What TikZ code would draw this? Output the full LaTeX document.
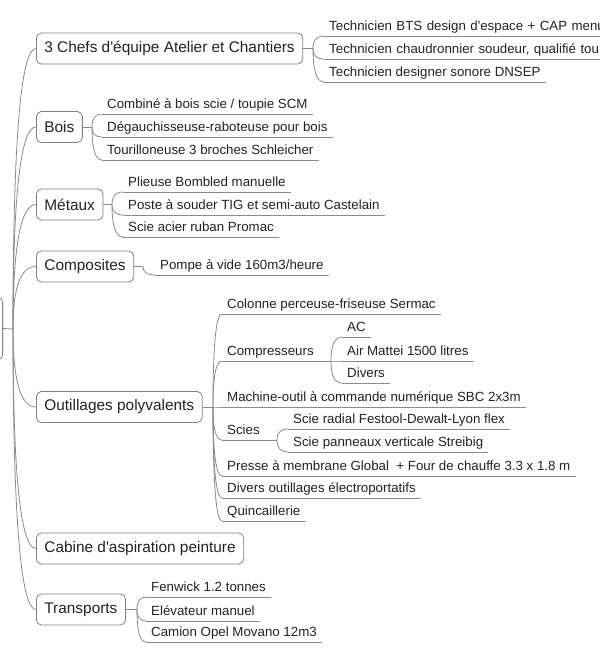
\documentclass[tikz,border=0pt]{standalone}
\usepackage{fontspec}
\setmainfont{Liberation Sans}
\usepackage{xcolor}
\usetikzlibrary{calc}

\definecolor{ink}{HTML}{222222}
\definecolor{linegray}{HTML}{8A8A8A}
\definecolor{boxgray}{HTML}{808080}

\tikzset{
  link/.style={draw=linegray, line width=0.8pt},
  quad/.style={to path={.. controls ($(\tikztostart)!.667!(\tikztostart|-\tikztotarget)$)
      and ($(\tikztotarget)!.667!(\tikztostart|-\tikztotarget)$) .. (\tikztotarget)}},
  topic/.style={draw=boxgray, rounded corners=5pt, line width=0.8pt, inner xsep=8pt,
      minimum height=31pt, anchor=west, text=ink, font=\fontsize{15.4}{18}\selectfont},
  leaf/.style={inner xsep=5pt, inner ysep=2.5pt, text height=10pt, text depth=3pt,
      anchor=south west, text=ink, font=\fontsize{13.3}{16}\selectfont,
      append after command={(\tikzlastnode.south west) edge[link] (\tikzlastnode.south east)}},
}

\begin{document}
\begin{tikzpicture}[x=1pt, y=-1pt]

    \useasboundingbox (0,0) rectangle (600,659);

    % --- ROOT (cut by the left edge) ---
    \node[draw=boxgray, rounded corners=5pt, line width=0.8pt, minimum width=80pt,
          minimum height=63pt, anchor=east] (root) at (3,328.5) {};
    \coordinate (trunk) at (13,329);
    \draw[link] (root.east) -- (trunk);

    % --- MAIN TOPICS ---
    \node[topic] (chefs) at (36,48.5) {3 Chefs d\textquotesingle équipe Atelier et Chantiers};
    \node[topic] (bois) at (36,127) {Bois};
    \node[topic] (metaux) at (36,204.5) {Métaux};
    \node[topic] (composites) at (36,266.5) {Composites};
    \node[topic] (outils) at (36,407) {Outillages polyvalents};
    \node[topic] (cabine) at (36,548.5) {Cabine d\textquotesingle aspiration peinture};
    \node[topic] (transports) at (36,609.5) {Transports};

    % trunk to main topics
    \draw[link] (trunk) to[quad] (chefs.west);
    \draw[link] (trunk) to[quad] (bois.west);
    \draw[link] (trunk) to[quad] (metaux.west);
    \draw[link] (trunk) to[quad] (composites.west);
    \draw[link] (trunk) to[quad] (outils.west);
    \draw[link] (trunk) to[quad] (cabine.west);
    \draw[link] (trunk) to[quad] (transports.west);

    % --- CHEFS D'EQUIPE ---
    \coordinate (jchefs) at (313,48.5);
    \draw[link] (chefs.east) -- (jchefs);
    \node[leaf, text width=330pt] (chefs1) at (324,36) {Technicien BTS design d\textquotesingle espace + CAP menu};
    \node[leaf, text width=330pt] (chefs2) at (324,59) {Technicien chaudronnier soudeur, qualifié tou};
    \node[leaf] (chefs3) at (324,82) {Technicien designer sonore DNSEP};
    \draw[link] (jchefs) to[quad] (chefs1.south west);
    \draw[link] (jchefs) to[quad] (chefs2.south west);
    \draw[link] (jchefs) to[quad] (chefs3.south west);

    % --- BOIS ---
    \coordinate (jbois) at (92,127);
    \draw[link] (bois.east) -- (jbois);
    \node[leaf] (bois1) at (102,114) {Combiné à bois scie / toupie SCM};
    \node[leaf] (bois2) at (102,137) {Dégauchisseuse-raboteuse pour bois};
    \node[leaf] (bois3) at (102,160) {Tourilloneuse 3 broches Schleicher};
    \draw[link] (jbois) to[quad] (bois1.south west);
    \draw[link] (jbois) to[quad] (bois2.south west);
    \draw[link] (jbois) to[quad] (bois3.south west);

    % --- METAUX ---
    \coordinate (jmetaux) at (112,204.5);
    \draw[link] (metaux.east) -- (jmetaux);
    \node[leaf] (metaux1) at (123,192) {Plieuse Bombled manuelle};
    \node[leaf] (metaux2) at (123,215) {Poste à souder TIG et semi-auto Castelain};
    \node[leaf] (metaux3) at (123,237) {Scie acier ruban Promac};
    \draw[link] (jmetaux) to[quad] (metaux1.south west);
    \draw[link] (jmetaux) to[quad] (metaux2.south west);
    \draw[link] (jmetaux) to[quad] (metaux3.south west);

    % --- COMPOSITES ---
    \coordinate (jcomposites) at (143,266.5);
    \draw[link] (composites.east) -- (jcomposites);
    \node[leaf] (composites1) at (155,275) {Pompe à vide 160m3/heure};
    \draw[link] (jcomposites) to[quad] (composites1.south west);

    % --- OUTILLAGES POLYVALENTS ---
    \coordinate (joutils) at (213,407);
    \draw[link] (outils.east) -- (joutils);
    \node[leaf] (outils1) at (222,314) {Colonne perceuse-friseuse Sermac};
    \node[leaf] (outils2) at (222,361) {Compresseurs};
    \node[leaf] (outils3) at (222,407) {Machine-outil à commande numérique SBC 2x3m};
    \node[leaf] (outils4) at (222,440) {Scies};
    \node[leaf] (outils5) at (222,476) {Presse à membrane Global\ \ + Four de chauffe 3.3 x 1.8 m};
    \node[leaf] (outils6) at (222,498) {Divers outillages électroportatifs};
    \node[leaf] (outils7) at (222,521) {Quincaillerie};
    \draw[link] (joutils) to[quad] (outils1.south west);
    \draw[link] (joutils) to[quad] (outils2.south west);
    \draw[link] (joutils) to[quad] (outils3.south west);
    \draw[link] (joutils) to[quad] (outils4.south west);
    \draw[link] (joutils) to[quad] (outils5.south west);
    \draw[link] (joutils) to[quad] (outils6.south west);
    \draw[link] (joutils) to[quad] (outils7.south west);

    % compresseurs
    \coordinate (jcompr) at (331,361);
    \draw[link] (outils2.south east) -- (jcompr);
    \node[leaf] (compr1) at (342,337) {AC};
    \node[leaf] (compr2) at (342,361) {Air Mattei 1500 litres};
    \node[leaf] (compr3) at (342,383) {Divers};
    \draw[link] (jcompr) to[quad] (compr1.south west);
    \draw[link] (jcompr) to[quad] (compr2.south west);
    \draw[link] (jcompr) to[quad] (compr3.south west);

    % scies
    \coordinate (jscies) at (277,440);
    \draw[link] (outils4.south east) -- (jscies);
    \node[leaf] (scies1) at (288,429) {Scie radial Festool-Dewalt-Lyon flex};
    \node[leaf] (scies2) at (288,452) {Scie panneaux verticale Streibig};
    \draw[link] (jscies) to[quad] (scies1.south west);
    \draw[link] (jscies) to[quad] (scies2.south west);

    % --- TRANSPORTS ---
    \coordinate (jtransports) at (137,609.5);
    \draw[link] (transports.east) -- (jtransports);
    \node[leaf] (transports1) at (146,597) {Fenwick 1.2 tonnes};
    \node[leaf] (transports2) at (146,621) {Elévateur manuel};
    \node[leaf] (transports3) at (146,642) {Camion Opel Movano 12m3};
    \draw[link] (jtransports) to[quad] (transports1.south west);
    \draw[link] (jtransports) to[quad] (transports2.south west);
    \draw[link] (jtransports) to[quad] (transports3.south west);

\end{tikzpicture}
\end{document}
